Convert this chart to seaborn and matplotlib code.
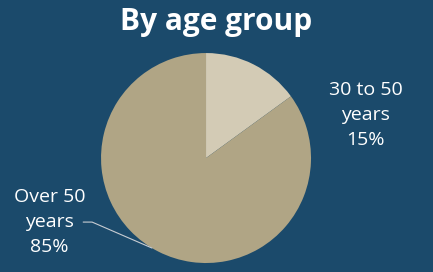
import numpy as np
import matplotlib
matplotlib.use("Agg")
import matplotlib.pyplot as plt
import seaborn as sns

# dados
grupos = ["30 to 50\nyears", "Over 50\nyears"]
valores = [15, 85]
cores = ["#D3CBB5", "#B0A585"]
titulo = "By age group"

fundo = "#1B4A6B"
sns.set_theme(style="white", rc={"figure.facecolor": fundo, "axes.facecolor": fundo})
plt.rcParams["font.family"] = ["Open Sans", "DejaVu Sans"]

fig = plt.figure(figsize=(4.33, 2.72), dpi=100)
ax = fig.add_axes([0.2333, 0.033, 0.485, 0.772])

wedges, _ = ax.pie(valores, colors=cores, startangle=90, counterclock=False,
                   wedgeprops=dict(linewidth=0))
ax.set_xlim(-1, 1)
ax.set_ylim(-1, 1)
ax.set_aspect("equal")
ax.axis("off")

total = sum(valores)
pct = [f"{v / total * 100:.0f}%" for v in valores]

# rotulo da fatia pequena
ax.text(1.52, 0.41, f"{grupos[0]}\n{pct[0]}", ha="center", va="center",
        color="white", fontsize=14, linespacing=1.5, clip_on=False)

# rotulo da fatia grande com linha guia
ax.text(-1.49, -0.61, f"{grupos[1]}\n{pct[1]}", ha="center", va="center",
        color="white", fontsize=14, linespacing=1.5, clip_on=False)
w = wedges[1]
ang = np.deg2rad((w.theta1 + w.theta2) / 2 - 4)
ax.plot([-1.17, -1.085, np.cos(ang)], [-0.61, -0.61, np.sin(ang)],
        color="#C8CDD3", linewidth=0.8, clip_on=False)

fig.text(0.5, 0.918, titulo, ha="center", va="center", color="white",
         fontsize=21.5, fontweight="bold")

fig.savefig("out.png", dpi=100, facecolor=fundo)
